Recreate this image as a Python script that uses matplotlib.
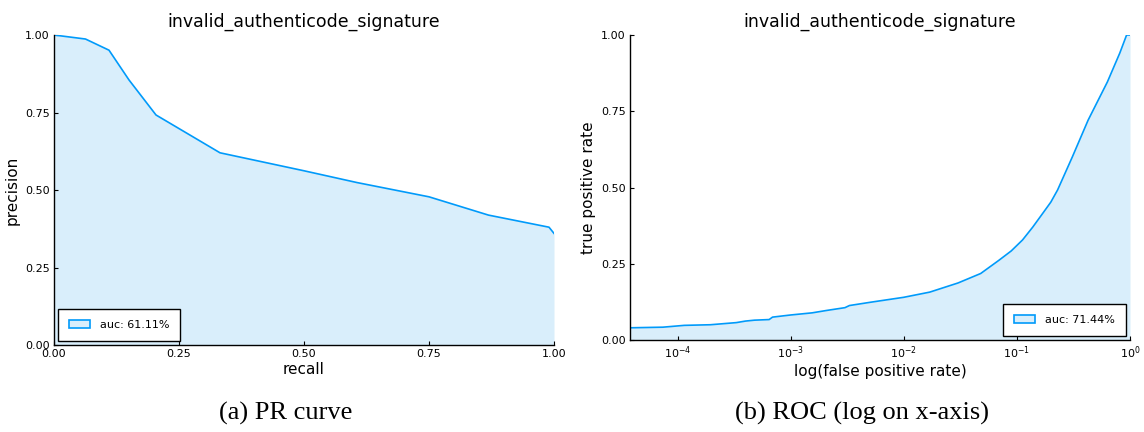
import numpy as np
import matplotlib
matplotlib.use("Agg")
import matplotlib.pyplot as plt
from matplotlib.patches import Patch

# PR curve data
pr_recall = [0.0, 0.063, 0.110, 0.150, 0.204, 0.332, 0.500, 0.606, 0.750, 0.869, 0.990, 1.0]
pr_precision = [1.0, 0.987, 0.951, 0.855, 0.742, 0.620, 0.562, 0.524, 0.478, 0.419, 0.380, 0.360]
pr_auc_label = "auc: 61.11%"

# ROC data (log10 of false positive rate, true positive rate)
roc_log_fpr = [-4.42, -4.13, -3.94, -3.71, -3.48, -3.40, -3.32, -3.19, -3.16, -3.0, -2.81, -2.68,
               -2.52, -2.48, -2.29, -2.0, -1.77, -1.52, -1.32, -1.16, -1.05, -0.95, -0.86,
               -0.77, -0.70, -0.64, -0.51, -0.37, -0.20, -0.09, -0.03, 0.0]
roc_tpr = [0.040, 0.042, 0.048, 0.050, 0.057, 0.062, 0.065, 0.067, 0.075, 0.082, 0.089, 0.097,
           0.106, 0.113, 0.124, 0.140, 0.157, 0.187, 0.218, 0.261, 0.292, 0.328, 0.370,
           0.416, 0.452, 0.492, 0.600, 0.721, 0.846, 0.941, 1.0, 1.0]
roc_auc_label = "auc: 71.44%"

title = "invalid_authenticode_signature"
captions = ["(a) PR curve", "(b) ROC (log on x-axis)"]
yticks = [0.0, 0.25, 0.5, 0.75, 1.0]

LINE = "#009AFA"
FILL = "#D9EEFB"

fig = plt.figure(figsize=(11.44, 4.32), dpi=100)
W, H = 1144, 432

def axes_px(l, r, t, b):
    return fig.add_axes([l / W, (H - b) / H, (r - l) / W, (b - t) / H])

def style(ax):
    for s in ["top", "right"]:
        ax.spines[s].set_visible(False)
    for s in ["left", "bottom"]:
        ax.spines[s].set_linewidth(1.0)
    ax.tick_params(direction="in", labelsize=8, length=3, width=0.8, pad=3)
    ax.set_title(title, fontsize=12.5, pad=6)

def legend(ax, label, loc):
    h = Patch(facecolor=FILL, edgecolor=LINE, linewidth=1.2)
    leg = ax.legend([h], [label], loc=loc, fontsize=8,
                    fancybox=False, edgecolor="black", framealpha=1,
                    handlelength=1.9, handleheight=0.8, borderpad=0.95,
                    handletextpad=0.9, borderaxespad=0.4)
    leg.get_frame().set_linewidth(1.0)

# Left: PR curve
ax1 = axes_px(54, 554, 35, 345)
ax1.fill_between(pr_recall, pr_precision, 0, color=FILL, linewidth=0)
ax1.plot(pr_recall, pr_precision, color=LINE, linewidth=1.2)
ax1.set_xlim(0, 1)
ax1.set_ylim(0, 1)
ax1.set_xticks(yticks)
ax1.set_yticks(yticks)
ax1.set_xticklabels([f"{v:.2f}" for v in yticks])
ax1.set_yticklabels([f"{v:.2f}" for v in yticks])
ax1.set_xlabel("recall", fontsize=11, labelpad=2)
ax1.set_ylabel("precision", fontsize=11, labelpad=4)
style(ax1)
legend(ax1, pr_auc_label, "lower left")

# Right: ROC curve on log x
ax2 = axes_px(630, 1130, 35, 340)
fpr = np.power(10.0, roc_log_fpr)
ax2.fill_between(fpr, roc_tpr, 0, color=FILL, linewidth=0)
ax2.plot(fpr, roc_tpr, color=LINE, linewidth=1.2)
ax2.set_xscale("log")
ax2.set_xlim(10 ** -4.42, 1)
ax2.set_ylim(0, 1)
ax2.set_xticks([1e-4, 1e-3, 1e-2, 1e-1, 1e0])
ax2.set_xticklabels([r"$10^{-4}$", r"$10^{-3}$", r"$10^{-2}$", r"$10^{-1}$", r"$10^{0}$"])
ax2.xaxis.set_minor_locator(matplotlib.ticker.NullLocator())
ax2.set_yticks(yticks)
ax2.set_yticklabels([f"{v:.2f}" for v in yticks])
ax2.set_xlabel("log(false positive rate)", fontsize=11, labelpad=2)
ax2.set_ylabel("true positive rate", fontsize=11, labelpad=4)
style(ax2)
legend(ax2, roc_auc_label, "lower right")

fig.text(286 / W, (H - 413) / H, captions[0], fontsize=19, family="Liberation Serif",
         ha="center", va="center")
fig.text(862 / W, (H - 413) / H, captions[1], fontsize=19, family="Liberation Serif",
         ha="center", va="center")

fig.savefig("out.png", dpi=100)
